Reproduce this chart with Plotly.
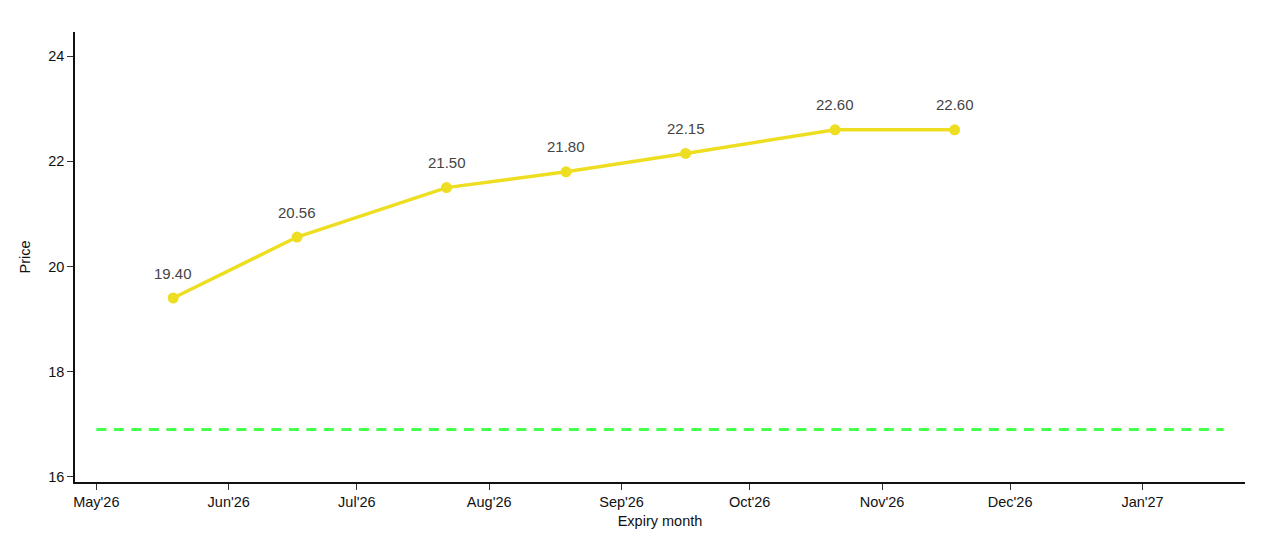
import plotly.graph_objects as go

# expiry dates, with settlement prices
expiry = ["2026-05-19", "2026-06-17", "2026-07-22", "2026-08-19",
          "2026-09-16", "2026-10-21", "2026-11-18"]
price = [19.40, 20.56, 21.50, 21.80, 22.15, 22.60, 22.60]

# spot reference line
spot_dates = ["2026-05-01", "2027-01-20"]
spot_price = [16.9, 16.9]

FONT = "Liberation Sans, Arial"

fig = go.Figure()

fig.add_trace(go.Scatter(
    x=spot_dates, y=spot_price, mode="lines",
    line=dict(color="#44FF4C", width=3, dash="10px,7.5px"),
    hoverinfo="skip", showlegend=False,
))

fig.add_trace(go.Scatter(
    x=expiry, y=price, mode="lines+markers",
    line=dict(color="#EEDE22", width=3.5),
    marker=dict(color="#EEDE22", size=11),
    showlegend=False,
))

# value labels above each point
labels = [
    dict(x=d, y=v, text=f"{v:.2f}", showarrow=False, yshift=25,
         font=dict(family=FONT, size=15, color="#444"))
    for d, v in zip(expiry, price)
]

# page has an 8px body margin, so size the figure to land where the original sits
fig.update_layout(
    width=1264, height=534,
    margin=dict(l=67, r=27, t=24, b=60),
    paper_bgcolor="white", plot_bgcolor="white",
    font=dict(family=FONT, size=14, color="#111"),
    annotations=labels,
    xaxis=dict(
        type="date", range=["2026-04-26", "2027-01-25"],
        tick0="2026-05-01", dtick="M1", tickformat="%b'%y",
        tickfont=dict(size=14.5, color="#111"),
        showgrid=False, zeroline=False,
        showline=True, linecolor="#111", linewidth=1.5,
        ticks="outside", ticklen=6, tickcolor="#333",
        title=dict(text="Expiry month", standoff=7,
                   font=dict(size=14.5, color="#111")),
    ),
    yaxis=dict(
        range=[15.9, 24.46], dtick=2,
        tickfont=dict(size=14.5, color="#111"),
        showgrid=False, zeroline=False,
        showline=True, linecolor="#111", linewidth=1.5,
        ticks="outside", ticklen=6, tickcolor="#333",
        title=dict(text="Price", standoff=14,
                   font=dict(size=14.5, color="#111")),
    ),
)

fig.write_html("out.html")
